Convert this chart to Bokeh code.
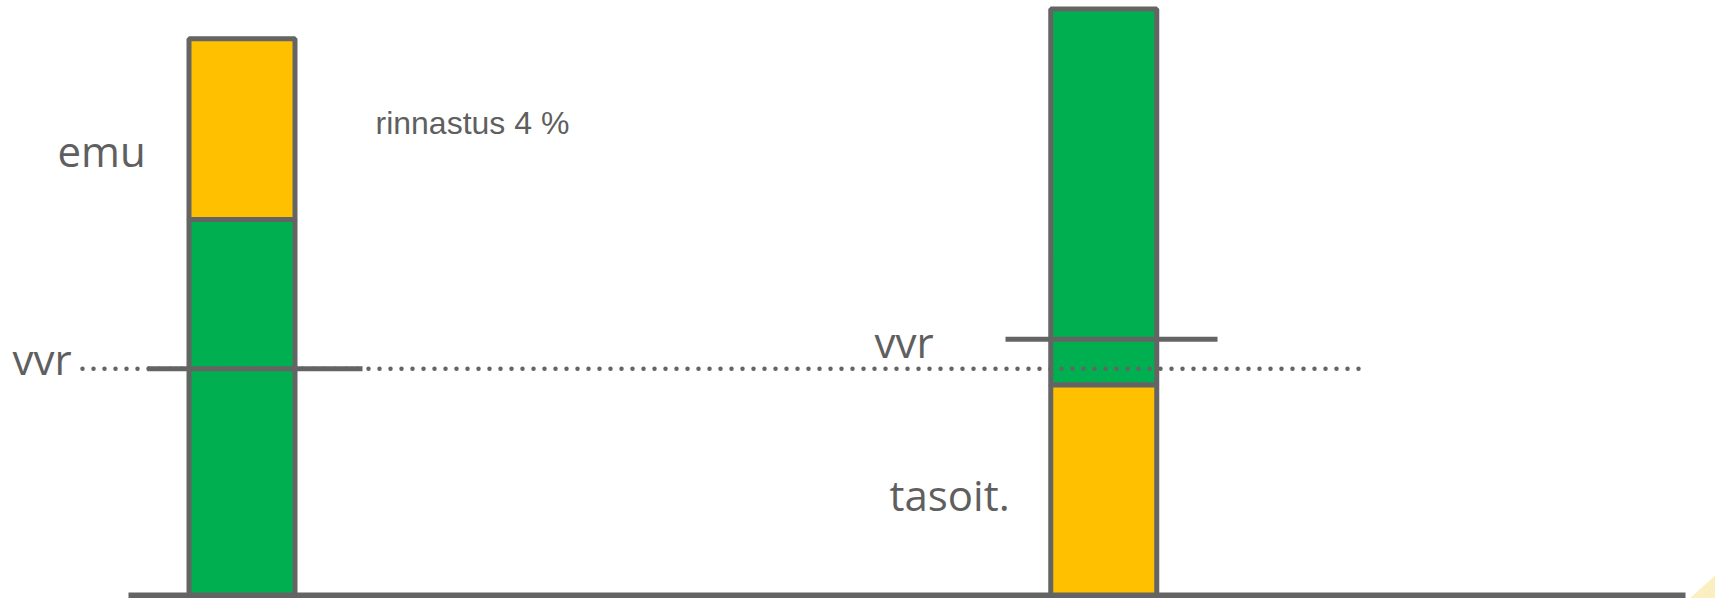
from bokeh.plotting import figure
from bokeh.models import Range1d, ColumnDataSource
from bokeh.core.properties import value
from bokeh.embed import file_html
from bokeh.resources import INLINE

# ---- data (values in chart units; baseline = 0) ----
bar_x = [241.5, 1103.25]          # bar centres (horizontal position units)
green = [37.8, 37.8]              # green segment heights
yellow = [18.15, 21.15]           # yellow segment heights
yellow_on_top = [True, False]     # left: yellow above green, right: yellow below green

vvr_level = 22.8                  # dotted reference level
vvr_right = 25.75                 # right-hand solid "vvr" marker
labels = ["emu", "rinnastus 4 %", "vvr", "vvr", "tasoit."]
label_x = [57, 375, 12, 874, 889]
label_y = [44.7, 47.5, 23.8, 25.5, 10.2]
label_size = ["42px", "32px", "42px", "42px", "42px"]
label_font = ["Open Sans", "Liberation Sans", "Open Sans", "Open Sans", "Open Sans"]

baseline_x = [128, 1685]
dotted_x = [82, 1363]
left_marker_x = [147, 362]
right_marker_x = [1005, 1217]
corner_x = [1687, 1723, 1723]
corner_y = [-0.5, 2.8, -0.5]

GREEN = "#00B050"
YELLOW = "#FFC000"
GREY = "#646464"
TEXT = "#5f5f5f"

# stacking
g_bottom, g_top, y_bottom, y_top = [], [], [], []
for g, y, yt in zip(green, yellow, yellow_on_top):
    if yt:
        g_bottom.append(0); g_top.append(g)
        y_bottom.append(g); y_top.append(g + y)
    else:
        y_bottom.append(0); y_top.append(y)
        g_bottom.append(y); g_top.append(y + g)

p = figure(width=1715, height=598, output_backend="svg", toolbar_location=None,
           x_range=Range1d(0, 1715), y_range=Range1d(-0.3, 59.8),
           min_border=0, outline_line_color=None)
p.axis.visible = False
p.grid.visible = False
p.background_fill_color = "white"
p.border_fill_color = "white"

p.patch(corner_x, corner_y, fill_color="#FBEFC2", line_color=None)

src = ColumnDataSource(dict(x=bar_x, gb=g_bottom, gt=g_top, yb=y_bottom, yt=y_top))
p.vbar(x="x", bottom="gb", top="gt", width=106, source=src,
       fill_color=GREEN, line_color=GREY, line_width=5)
p.vbar(x="x", bottom="yb", top="yt", width=106, source=src,
       fill_color=YELLOW, line_color=GREY, line_width=5)

# baseline
p.line(baseline_x, [0, 0], line_color=GREY, line_width=6)
# solid vvr markers
p.line(left_marker_x, [vvr_level, vvr_level], line_color=GREY, line_width=5)
p.line(right_marker_x, [vvr_right, vvr_right], line_color=GREY, line_width=5)
# dotted vvr line
p.line(dotted_x, [vvr_level, vvr_level], line_color=GREY, line_width=4.5,
       line_dash="0 11", line_cap="round")

for t, x, y, s, f in zip(labels, label_x, label_y, label_size, label_font):
    p.text(x=[x], y=[y], text=[t], text_font=value(f), text_font_size=s,
           text_color=TEXT, text_align="left", text_baseline="alphabetic")

open("out.html", "w").write(file_html(p, INLINE))
